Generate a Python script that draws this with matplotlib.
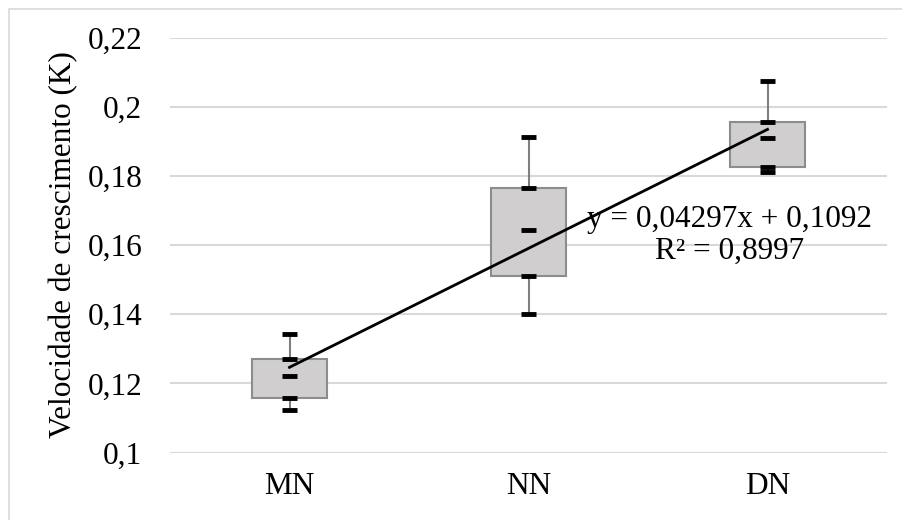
import numpy as np
import matplotlib
matplotlib.use("Agg")
import matplotlib.pyplot as plt
from matplotlib.patches import Rectangle

categories = ["MN", "NN", "DN"]
maxima = [0.1342, 0.1912, 0.2073]
q3 = [0.1270, 0.1764, 0.1957]
medians = [0.1220, 0.1643, 0.1908]
q1 = [0.1159, 0.1510, 0.1825]
minima = [0.1122, 0.1400, 0.1810]
yticks = [0.10, 0.12, 0.14, 0.16, 0.18, 0.20, 0.22]
ytick_labels = ["0,1", "0,12", "0,14", "0,16", "0,18", "0,2", "0,22"]
equation = "y = 0,04297x + 0,1092\nR² = 0,8997"

plt.rcParams['font.family'] = ['Liberation Serif', 'DejaVu Serif']

W, H = 902, 520
FS = 22.5
fig = plt.figure(figsize=(W / 100, H / 100), dpi=100)
left, right = 170 / W, 887 / W
bottom, top = 1 - 452.5 / H, 1 - 37.5 / H
ax = fig.add_axes([left, bottom, right - left, top - bottom])

# outer chart border
fig.patches.append(Rectangle((8.5 / W, -0.1), 1.2, 1 - 8.5 / H + 0.1, transform=fig.transFigure,
                             fill=False, edgecolor="#D9D9D9", linewidth=1.2, zorder=0))

x = np.arange(1, len(categories) + 1)
box_w = 0.315
cap_w = 0.06

for xi, mx, a, md, b, mn in zip(x, maxima, q3, medians, q1, minima):
    # whiskers
    ax.plot([xi, xi], [a, mx], color="#7F7F7F", lw=1.5, zorder=2)
    ax.plot([xi, xi], [mn, b], color="#7F7F7F", lw=1.5, zorder=2)
    # box
    ax.add_patch(Rectangle((xi - box_w / 2, b), box_w, a - b, facecolor="#D0CECE",
                           edgecolor="#8C8C8C", lw=1.5, zorder=3))
    # markers
    for v in (mx, a, md, b, mn):
        ax.plot([xi - cap_w / 2, xi + cap_w / 2], [v, v], color="black", lw=3.5,
                solid_capstyle="butt", zorder=4)

# linear trend of medians
coef = np.polyfit(x, medians, 1)
ax.plot([x[0], x[-1]], np.polyval(coef, [x[0], x[-1]]), color="black", lw=2, zorder=5)

ax.text(2.84, 0.1627, equation, ha="center", va="center", fontsize=FS,
        linespacing=1.12, zorder=6)

ax.set_xlim(0.5, 3.5)
ax.set_ylim(0.1, 0.22)
ax.set_yticks(yticks)
ax.set_yticklabels(ytick_labels)
ax.set_xticks(x)
ax.set_xticklabels(categories)
ax.tick_params(axis="both", length=0, labelsize=FS, colors="black")
ax.tick_params(axis="y", pad=20)
ax.tick_params(axis="x", pad=14)
ax.grid(axis="y", color="#D9D9D9", lw=1.5)
ax.set_axisbelow(True)
for s in ax.spines.values():
    s.set_visible(False)
ax.axhline(0.1, color="#D9D9D9", lw=1.5, zorder=1)

ax.set_ylabel("Velocidade de crescimento (K)", fontsize=FS, labelpad=7)

fig.savefig("out.png", dpi=100)
